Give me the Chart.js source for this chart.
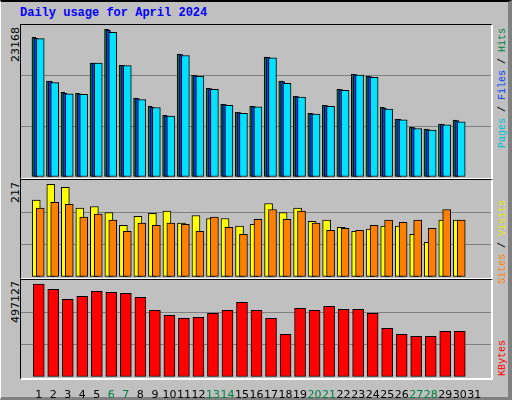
<!DOCTYPE html>
<html>
<head>
<meta charset="utf-8">
<script src="https://cdn.jsdelivr.net/npm/chart.js@4.4.1/dist/chart.umd.min.js"></script>
<style>
  body { margin: 0; background: #c0c0c0; }
  #frame { position: absolute; left: 0; top: 0; width: 507px; height: 395px; background: #c0c0c0;
           border-top: 2px solid #000; border-left: 1px solid #fff; border-right: 4px solid #808080; border-bottom: 3px solid #808080; }
  .panel { position: absolute; left: 20px; width: 470px; border-top: 1px solid #000; border-left: 1px solid #000;
           border-right: 2px solid #fff; border-bottom: 2px solid #fff; box-sizing: content-box; }
  canvas { position: absolute; }
  .title { position: absolute; left: 20px; top: 6px; font: bold 12px "Liberation Mono", monospace; color: #0000ff; }
  .vtext { position: absolute; writing-mode: vertical-rl; transform: rotate(180deg); white-space: nowrap; }
  .num { font: 11px "DejaVu Sans", sans-serif; color: #000; }
  .leg { font: 10px "Liberation Mono", monospace; }
</style>
</head>
<body>
<div id="frame"></div>
<div class="title">Daily usage for April 2024</div>
<div class="panel" style="top:24px;height:153px"></div>
<div class="panel" style="top:179px;height:98px"></div>
<div class="panel" style="top:279px;height:98px"></div>

<div class="vtext num" style="left:9px;top:27px">23168</div>
<div class="vtext num" style="left:9px;top:182px">217</div>
<div class="vtext num" style="left:9px;top:281px">497127</div>

<div class="vtext leg" style="left:497px;top:28px"><span style="color:#00c0d0">Pages</span> / <span style="color:#0040ff">Files</span> / <span style="color:#008040">Hits</span></div>
<div class="vtext leg" style="left:497px;top:200px"><span style="color:#ff8000">Sites</span> / <span style="color:#e8e800">Visits</span></div>
<div class="vtext leg" style="left:497px;top:340px"><span style="color:#ff0000">KBytes</span></div>

<canvas id="c1" style="left:21px;top:25px;width:470px;height:152px" width="470" height="152"></canvas>
<canvas id="c2" style="left:21px;top:180px;width:470px;height:97px" width="470" height="97"></canvas>
<canvas id="c3" style="left:21px;top:280px;width:470px;height:120px" width="470" height="120"></canvas>

<script>
const days = Array.from({ length: 31 }, (_, i) => i + 1);
const weekendDays = [6, 7, 13, 14, 20, 21, 27, 28];

const hits  = [21900, 15050, 13280, 13120, 17880, 23168, 17510, 12340, 11090, 9670, 19240, 15950, 13910, 11400, 10140,
               11090, 18820, 15050, 12650, 9990, 11240, 13750, 16100, 15790, 10930, 9090, 7840, 7530, 8310, 8940];
const files = [21750, 15000, 13150, 13050, 17850, 23000, 17480, 12300, 10950, 9600, 19200, 15900, 13880, 11350, 10100,
               11050, 18780, 14950, 12600, 9950, 11200, 13700, 16050, 15750, 10800, 9050, 7750, 7450, 8250, 8850];
const pages = [21700, 14800, 13050, 12980, 17850, 22700, 17480, 12150, 10900, 9550, 19050, 15800, 13750, 11250, 10000,
               11000, 18700, 14700, 12550, 9850, 11100, 13600, 16000, 15650, 10650, 8950, 7600, 7350, 8200, 8650];
const hitsMax = 23840;

const visits = [180, 217, 210, 161, 165, 151, 121, 142, 149, 154, 126, 144, 137, 137, 119,
                123, 172, 151, 161, 130, 133, 116, 107, 112, 119, 119, 100, 81, 133, 133];
const sites  = [161, 175, 170, 140, 147, 133, 107, 126, 121, 126, 123, 107, 140, 116, 100,
                135, 158, 135, 154, 126, 109, 114, 109, 121, 133, 128, 133, 114, 158, 133];
const visitsMax = 227;

const kbytes = [497127, 468700, 415300, 431300, 458000, 452700, 447400, 426000, 356500, 329800, 313700, 319100, 340500, 356500, 399300,
                356500, 313700, 228200, 367200, 356500, 377900, 361900, 361900, 340500, 260300, 228200, 217500, 217500, 244300, 244300];
const kbytesMax = 518500;

function points(values, shift) {
  return values.map((v, i) => ({ x: days[i] + shift, y: v }));
}

function bar(label, values, shift, color, thickness) {
  return { label, data: points(values, shift), backgroundColor: color, borderColor: '#000',
           borderWidth: 1, borderSkipped: false, barThickness: thickness, grouped: false };
}

function options(max, showDays) {
  return {
    responsive: false, animation: false,
    layout: { padding: 0 },
    plugins: { legend: { display: false }, tooltip: { enabled: false } },
    scales: {
      x: {
        type: 'linear', min: 0.3, max: 31.63, display: showDays,
        afterBuildTicks: s => { s.ticks = days.map(d => ({ value: d })); },
        afterFit: s => { s.height = showDays ? 23 : 0; },
        grid: { display: false }, border: { display: false },
        ticks: {
          padding: 4, autoSkip: false, maxRotation: 0, minRotation: 0,
          font: { family: 'DejaVu Sans', size: 11 },
          color: c => weekendDays.includes(c.tick.value) ? '#008040' : '#000'
        }
      },
      y: {
        min: 0, max: max,
        afterBuildTicks: s => { s.ticks = [0, 1, 2, 3].map(k => ({ value: max * k / 3 })); },
        afterFit: s => { s.width = 0; },
        ticks: { display: false },
        border: { display: false },
        grid: { drawTicks: false, color: c => (c.index === 1 || c.index === 2) ? '#808080' : 'rgba(0,0,0,0)' }
      }
    }
  };
}

new Chart(document.getElementById('c1'), {
  type: 'bar',
  data: { datasets: [
    bar('Pages', pages, 0.1, '#00e0ff', 8),
    bar('Files', files, -0.2, '#0040ff', 4),
    bar('Hits', hits, -0.33, '#008040', 4)
  ] },
  options: options(hitsMax, false)
});

new Chart(document.getElementById('c2'), {
  type: 'bar',
  data: { datasets: [
    bar('Sites', sites, 0.1, '#ff8000', 8),
    bar('Visits', visits, -0.17, '#ffff00', 8)
  ] },
  options: options(visitsMax, false)
});

new Chart(document.getElementById('c3'), {
  type: 'bar',
  data: { datasets: [ bar('KBytes', kbytes, 0, '#ff0000', 11) ] },
  options: options(kbytesMax, true)
});
</script>
</body>
</html>
